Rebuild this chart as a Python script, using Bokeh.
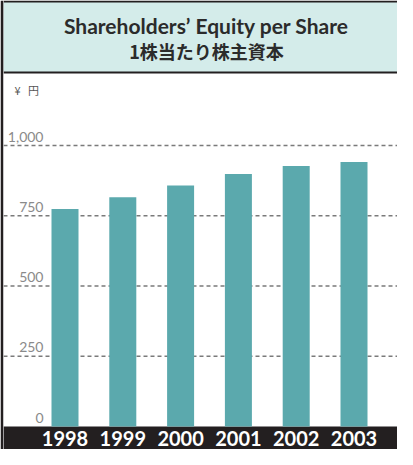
from bokeh.plotting import figure
from bokeh.models import Range1d, BoxAnnotation, Label, LabelSet, ColumnDataSource, Span
from bokeh.core.properties import value
from bokeh.embed import file_html
from bokeh.resources import INLINE

# ---- data ----
years = [1998, 1999, 2000, 2001, 2002, 2003]
year_labels = ["1998", "1999", "2000", "2001", "2002", "2003"]
equity = [774, 816, 858, 899, 927, 941]
tick_values = [0, 250, 500, 750, 1000]
tick_labels = ["0", "250", "500", "750", "1,000"]
title_en = "Shareholders\u2019 Equity per Share"
title_ja = "1株当たり株主資本"
unit_label = "¥\u00a0\u00a0\u00a0円"

# ---- colours ----
DARK = "#231f20"
TEAL_BAR = "#5ba9ad"
TITLE_BG = "#d4ecea"
GRID = "#7a7a7a"

W, H = 397, 449
BORDER_L = 3
FW = W - BORDER_L
ZERO_PX = 426.0         # frame px of value 0
KY = (ZERO_PX - 145.0) / 1000.0
KX = 57.8
X0 = years[0] - 61.5 / KX


def py(fy):
    return (ZERO_PX - fy) / KY


def px(fx):
    return X0 + fx / KX


p = figure(width=W, height=H, output_backend="svg", toolbar_location=None,
           x_range=Range1d(px(0), px(FW)), y_range=Range1d(py(H), py(0)),
           min_border_left=BORDER_L, min_border_right=0, min_border_top=0,
           min_border_bottom=0, border_fill_color=DARK,
           background_fill_color="white", outline_line_color=None)
p.xaxis.visible = False
p.yaxis.visible = False
p.grid.visible = False

# dashed grid lines
for v in tick_values[1:]:
    p.add_layout(Span(location=v, dimension="width", line_color=GRID,
                      line_width=1.5, line_dash="4 3", level="underlay"))

# bottom band
p.add_layout(BoxAnnotation(top=0, fill_color=DARK, fill_alpha=1,
                           line_color=None, level="underlay"))

# bars
p.vbar(x=years, top=equity, bottom=0, width=27 / KX, fill_color=TEAL_BAR,
       line_color=None)

# title box
p.add_layout(BoxAnnotation(bottom=py(73), fill_color=DARK, fill_alpha=1,
                           line_color=None))
p.add_layout(BoxAnnotation(bottom=py(71), top=py(2), fill_color=TITLE_BG,
                           fill_alpha=1, line_color=None))

p.add_layout(Label(x=px(203), y=py(25), text=title_en, text_align="center",
                   text_baseline="middle", text_font="Lato",
                   text_font_style="bold", text_font_size="21px",
                   text_color="#2b2b2b"))
p.add_layout(Label(x=px(203), y=py(50), text=title_ja, text_align="center",
                   text_baseline="middle", text_font="Noto Sans CJK JP",
                   text_font_style="bold", text_font_size="18px",
                   text_color="#2b2b2b"))

p.add_layout(Label(x=px(11), y=py(81), text=unit_label, text_align="left",
                   text_baseline="top", text_font="Noto Sans CJK JP",
                   text_font_size="11px", text_color="#555555"))

tsrc = ColumnDataSource(dict(v=tick_values, t=tick_labels,
                             x=[px(40)] * len(tick_values)))
p.add_layout(LabelSet(x="x", y="v", text="t", source=tsrc, y_offset=4,
                      text_align="right", text_baseline="alphabetic",
                      text_font=value("Lato"), text_font_size=value("14px"),
                      text_color="#8a8a8a"))

yr = p.text(x=years, y=[py(437.5)] * len(years), text=year_labels,
            text_align="center", text_baseline="middle",
            text_font=value("Lato"), text_font_style="bold",
            text_font_size=value("20px"), text_color="white")
yr.level = "overlay"

open("out.html", "w").write(file_html(p, INLINE))
